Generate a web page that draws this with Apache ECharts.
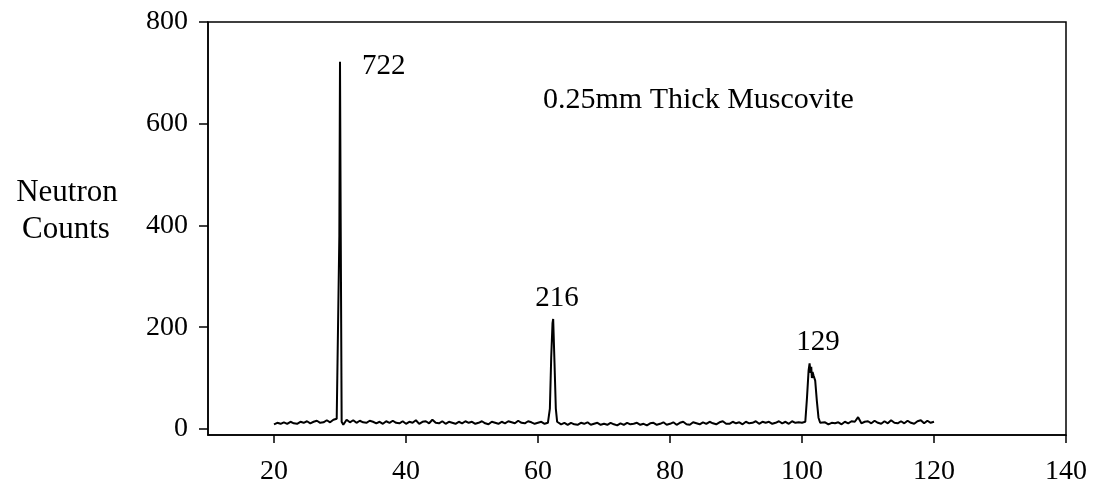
<!DOCTYPE html>
<html>
<head>
<meta charset="utf-8">
<script src="https://cdn.jsdelivr.net/npm/echarts@6/dist/echarts.min.js"></script>
<style>
  html, body { margin: 0; padding: 0; background: #fff; }
  #chart { width: 1096px; height: 496px; }
</style>
</head>
<body>
<div id="chart"></div>
<script>
// baseline counts, sampled every 0.5 from 20 to 120
const baseStart = 20;
const baseStep = 0.5;
const baseCounts = [
  9, 12, 10, 13, 10, 14, 11, 10, 14, 12,
  15, 11, 14, 16, 12, 13, 17, 13, 18, 20,
  14, 8, 18, 13, 17, 12, 16, 13, 12, 16,
  14, 11, 14, 10, 15, 12, 16, 12, 11, 15,
  10, 14, 12, 17, 10, 14, 15, 11, 18, 12,
  11, 15, 10, 14, 12, 10, 14, 11, 15, 12,
  14, 10, 12, 15, 11, 9, 14, 12, 10, 14,
  11, 15, 13, 11, 16, 12, 11, 15, 13, 10,
  12, 14, 10, 12, 12, 12, 15, 9, 12, 8,
  12, 9, 8, 12, 10, 13, 8, 10, 12, 8,
  10, 8, 12, 9, 7, 11, 8, 12, 9, 10,
  12, 8, 10, 7, 11, 12, 8, 10, 13, 8,
  10, 13, 8, 12, 14, 9, 8, 13, 11, 9,
  13, 10, 14, 11, 9, 13, 15, 10, 10, 14,
  11, 13, 9, 14, 11, 12, 15, 10, 14, 12,
  14, 10, 12, 15, 11, 14, 10, 15, 12, 13,
  12, 12, 12, 12, 12, 12, 10, 13, 9, 12,
  11, 13, 9, 14, 11, 15, 14, 23, 11, 14,
  15, 11, 16, 12, 10, 15, 11, 17, 12, 11,
  15, 11, 16, 12, 10, 15, 17, 11, 16, 12, 14
];

// peaks: [position, counts]
const peak1 = [[29.75, 18], [29.9, 380], [30.0, 722], [30.1, 420], [30.25, 14]];
const peak2 = [[61.6, 11], [61.8, 40], [62.0, 140], [62.2, 208], [62.3, 216], [62.5, 130], [62.7, 40], [62.9, 14]];
const peak3 = [[100.5, 14], [100.75, 60], [101.0, 115], [101.15, 129], [101.3, 110], [101.4, 122],
               [101.5, 100], [101.6, 112], [101.75, 105], [102.0, 95], [102.25, 55], [102.5, 22], [102.75, 12]];

const xTicks = [20, 40, 60, 80, 100, 120, 140];
const yTicks = [0, 200, 400, 600, 800];

const peaks = [peak1, peak2, peak3];
const inPeak = x => peaks.some(p => x >= p[0][0] && x <= p[p.length - 1][0]);

let points = [];
baseCounts.forEach((c, i) => {
  const x = baseStart + i * baseStep;
  if (!inPeak(x)) points.push([x, c]);
});
peaks.forEach(p => { points = points.concat(p); });
points.sort((a, b) => a[0] - b[0]);

const font = '"Liberation Serif", "Times New Roman", serif';
const chart = echarts.init(document.getElementById('chart'));

const txt = (text, x, y, size, align) => ({
  type: 'text', x: x, y: y,
  style: { text: text, font: size + 'px ' + font, fill: '#000', align: align || 'left', verticalAlign: 'middle' }
});

const option = {
  animation: false,
  grid: {
    left: 208, right: 30, top: 22, bottom: 61,
    show: true, borderColor: '#000', borderWidth: 1.5
  },
  xAxis: {
    type: 'value', min: 10, max: 140,
    axisLine: { show: true, onZero: false, lineStyle: { color: '#000', width: 1.5 } },
    axisTick: { show: true, customValues: xTicks, length: 8, lineStyle: { color: '#000', width: 1.5 } },
    axisLabel: { customValues: xTicks, color: '#000', fontSize: 28, fontFamily: font, margin: 23 },
    splitLine: { show: false }
  },
  yAxis: {
    type: 'value', min: -12, max: 800,
    axisLine: { show: true, onZero: false, lineStyle: { color: '#000', width: 1.5 } },
    axisTick: { show: true, customValues: yTicks, length: 9, lineStyle: { color: '#000', width: 1.5 } },
    axisLabel: { customValues: yTicks, color: '#000', fontSize: 28, fontFamily: font, margin: 20 },
    splitLine: { show: false }
  },
  graphic: [
    txt('Neutron', 67, 193, 31, 'center'),
    txt('Counts', 66, 230, 31, 'center'),
    txt('722', 362, 66, 29),
    txt('0.25mm Thick Muscovite', 543, 100, 30),
    txt('216', 557, 298, 29, 'center'),
    txt('129', 818, 342, 29, 'center')
  ],
  series: [{
    type: 'line',
    data: points,
    showSymbol: false,
    lineStyle: { color: '#000', width: 2 }
  }]
};
chart.setOption(option);
</script>
</body>
</html>
